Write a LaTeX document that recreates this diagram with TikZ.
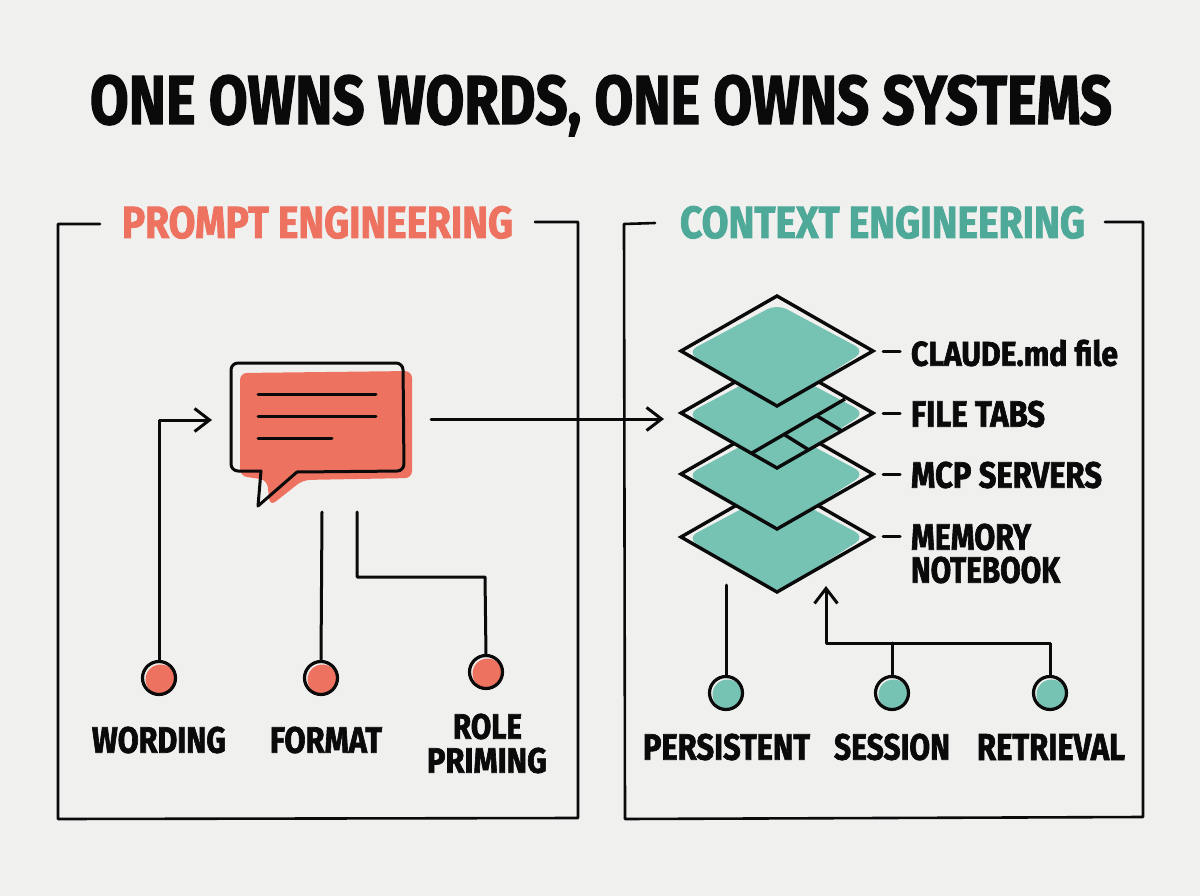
\documentclass[tikz,border=0pt]{standalone}
\usepackage{fontspec}
\usepackage{graphicx}
\newfontfamily\heavy{Fira Sans Bold}[FakeBold=2]
\setmainfont{Fira Sans}
\usetikzlibrary{arrows.meta}
\definecolor{paper}{HTML}{F0F0EF}
\definecolor{coral}{HTML}{EE7260}
\definecolor{teal}{HTML}{76C2B3}
\definecolor{tealtext}{HTML}{4FA998}
\definecolor{ink}{HTML}{0A0A0A}
% width and cap height of a label, in picture units
\newcommand{\fitted}[3]{\resizebox{#1pt}{#2pt}{\heavy #3}}
\tikzset{
  ink line/.style={draw=ink,line width=3pt,line cap=round,line join=round},
  frame line/.style={draw=ink,line width=2.6pt,line join=round,line cap=round},
  to head/.style={ink line,-{Straight Barb[length=15pt,width=23pt,line width=3pt]}},
  lbl/.style={inner sep=0pt,outer sep=0pt,text=ink},
  dot ring/.style={circle,draw=ink,line width=3.2pt,minimum size=33pt,inner sep=0pt,outer sep=0pt},
  sheet/.style={fill=paper,draw=none},
  sheet edge/.style={draw=ink,line width=3.4pt,line join=miter},
  sheet fill/.style={fill=teal,draw=none,rounded corners=11pt},
}
% a coloured disc slightly offset under a ringed node
\newcommand{\ringdot}[4]{%
  \fill[#4] (#2+1.5,#3+1.5) circle (15);
  \node[dot ring] (#1) at (#2,#3) {};
}
% one layer of the stack, centred at (#1,#2)
\newcommand{\stacksheet}[2]{%
  \fill[sheet] (#1,#2-55) -- (#1+96,#2) -- (#1,#2+55) -- (#1-96,#2) -- cycle;
  \path[sheet fill] (#1,#2-47) -- (#1+88,#2) -- (#1,#2+56) -- (#1-90,#2+1) -- cycle;
  \draw[sheet edge] (#1,#2-55) -- (#1+96,#2) -- (#1,#2+55) -- (#1-96,#2) -- cycle;
}
\begin{document}
\begin{tikzpicture}[x=1pt,y=-1pt]
\useasboundingbox (0,0) rectangle (1200,896);
\fill[paper] (0,0) rectangle (1200,896);

% title
\node[lbl,anchor=base] (title) at (601,124) {\fitted{1022}{49}{ONE OWNS WORDS, ONE OWNS SYSTEMS}};

% panel frames, left open behind their headings
\draw[frame line] (100,224) -- (58,224) -- (58,819) -- (578,818) -- (578,222) -- (535,222);
\draw[frame line] (655,223) -- (624,224) -- (625,819) -- (1143,817) -- (1143,222) -- (1105,222);
\node[lbl,anchor=base] (headL) at (317.5,238) {\fitted{391}{32}{\color{coral}PROMPT ENGINEERING}};
\node[lbl,anchor=base] (headR) at (882.5,238) {\fitted{405}{32}{\color{tealtext}CONTEXT ENGINEERING}};

% speech bubble
\fill[coral,rounded corners=7pt] (240,373) -- (412,371) -- (412,478) -- (303,480) -- (270,506) -- (267,480) -- (240,476) -- cycle;
\draw[ink line,rounded corners=7pt] (261,471) -- (231,471) -- (231,363) -- (403,363) -- (404,471) -- (297,472);
\draw[ink line] (297,472) -- (258,506) -- (261,471);
\draw[ink line] (258,394) -- (376,394);
\draw[ink line] (258,416) -- (376,416);
\draw[ink line] (258,438) -- (332,438);

% left panel dots and labels
\ringdot{wording}{159}{678}{coral}
\ringdot{format}{321}{678}{coral}
\ringdot{role}{486}{672}{coral}
\node[lbl] (lblWording) at (159,740) {\fitted{134}{26}{WORDING}};
\node[lbl] (lblFormat) at (326,740) {\fitted{112}{26}{FORMAT}};
\node[lbl] (lblRole) at (487.5,726.5) {\fitted{69}{25}{ROLE}};
\node[lbl] (lblPriming) at (487,760.5) {\fitted{120}{25}{PRIMING}};

% left panel connectors
\coordinate (bubbleIn) at (212,420);
\coordinate (bubbleOut) at (431,419);
\coordinate (stackIn) at (664,419);
\coordinate (formatTop) at (322,512);
\coordinate (roleTop) at (357,512);
\draw[to head] (wording.north) -- (wording.north |- bubbleIn) -- (bubbleIn);
\draw[ink line] (formatTop) -- (format.north);
\draw[ink line] (roleTop) -- (357,577) -- (485,577) -- (role.north);
\draw[to head] (bubbleOut) -- (stackIn);

% layer stack, lowest sheet first
\stacksheet{777}{537}
\stacksheet{777}{474}
\stacksheet{777}{413}
\draw[sheet edge] (752,453) -- (845,399);
\draw[sheet edge] (785,435) -- (809,450);
\draw[sheet edge] (817,416) -- (842,431);
\stacksheet{777}{351}

% layer labels and ticks
\node[lbl,anchor=west] (lblClaude) at (911,353) {\fitted{207}{26}{CLAUDE.md file}};
\node[lbl,anchor=west] (lblTabs) at (911,414) {\fitted{134}{26}{FILE TABS}};
\node[lbl,anchor=west] (lblMcp) at (911,475) {\fitted{191}{26}{MCP SERVERS}};
\node[lbl,anchor=west] (lblMemory) at (911,537) {\fitted{120}{26}{MEMORY}};
\node[lbl,anchor=west] (lblNotebook) at (911,570) {\fitted{149}{26}{NOTEBOOK}};
\draw[ink line] (883,351) -- (900,351);
\draw[ink line] (883,413) -- (900,413);
\draw[ink line] (883,474) -- (900,474);
\draw[ink line] (883,536) -- (900,536);

% right panel dots and labels
\ringdot{persistent}{726}{693}{teal}
\ringdot{session}{892}{693}{teal}
\ringdot{retrieval}{1050}{693}{teal}
\node[lbl] (lblPersistent) at (726.5,747) {\fitted{167}{26}{PERSISTENT}};
\node[lbl] (lblSession) at (892,747) {\fitted{116}{26}{SESSION}};
\node[lbl] (lblRetrieval) at (1051,747) {\fitted{148}{26}{RETRIEVAL}};

% right panel connectors
\coordinate (persistentTop) at (726,585);
\coordinate (stackUnder) at (826,586);
\coordinate (busCorner) at (826,643);
\draw[ink line] (persistentTop) -- (persistent.north);
\draw[to head] (retrieval.north) -- (retrieval.north |- busCorner) -- (busCorner) -- (stackUnder);
\draw[ink line] (session.north) -- (session.north |- busCorner);
\end{tikzpicture}
\end{document}
